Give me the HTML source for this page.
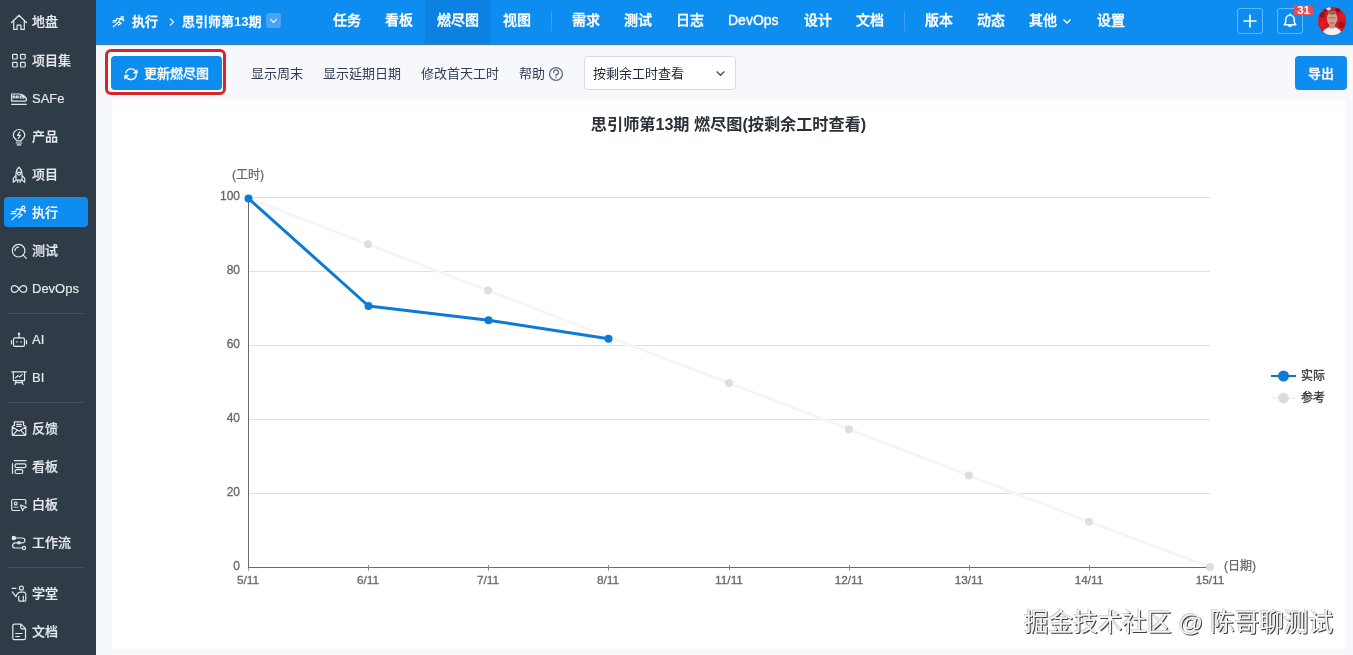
<!DOCTYPE html>
<html lang="zh-CN">
<head>
<meta charset="utf-8">
<title>思引师第13期 燃尽图</title>
<style>
*{box-sizing:border-box;margin:0;padding:0}
html,body{width:1353px;height:655px;overflow:hidden}
body{font-family:"Liberation Sans","Noto Sans CJK SC",sans-serif;background:#f6f8fb;position:relative;color:#313c52;font-size:13px}
#side{position:absolute;left:0;top:0;width:96px;height:655px;background:#2f3b47}
.st{position:absolute;left:32px;height:30px;color:#e6e9ed;font-size:13px;font-weight:500;line-height:30px;white-space:nowrap;-webkit-text-stroke:0.180px #e6e9ed}
.st.act{color:#fff}
.actbg2{position:absolute;left:4px;top:197px;width:84px;height:30px;border-radius:4px;background:#0d8df0}
.sd{position:absolute;left:8px;width:76px;height:1px;background:#44505c}
#top{position:absolute;left:96px;top:0;width:1257px;height:44px;background:#0d8df0;color:#fff;box-shadow:0 1px 1px rgba(8,90,160,.75)}
#top .t{position:absolute;top:0;height:44px;line-height:41px;font-size:14px;font-weight:500;white-space:nowrap;color:#fff;-webkit-text-stroke:0.350px #fff}
#top .vd{position:absolute;top:11px;width:1px;height:20px;background:#3a9ff0}
#top .actbg{position:absolute;left:329px;top:0;width:66px;height:44px;background:#0b82e2}
.sq{position:absolute;top:8px;width:26px;height:26px;border:1px solid #5cbcfa;border-radius:3px}
#bar{position:absolute;left:96px;top:44px;width:1257px;height:56px}
.btn{position:absolute;top:12px;height:34px;background:#0d8df0;color:#fff;border-radius:4px;font-size:13px;font-weight:500;line-height:35px;white-space:nowrap}
.lk{position:absolute;top:12px;height:34px;line-height:35px;font-size:13px;color:#313c52;white-space:nowrap}
#panel{position:absolute;left:112px;top:100px;width:1234px;height:549px;background:#fff;border-radius:3px}
svg text{font-family:"Liberation Sans","Noto Sans CJK SC",sans-serif}
</style>
</head>
<body>
<div id="panel"></div>
<svg id="chart" width="1353" height="655" viewBox="0 0 1353 655" style="position:absolute;left:0;top:0">
  <text x="728.500" y="130.200" text-anchor="middle" font-size="16.150" font-weight="bold" fill="#2b2f36">思引师第13期 燃尽图(按剩余工时查看)</text>
  <g stroke="#e0e0e0" stroke-width="1">
    <line x1="248" y1="197.500" x2="1210" y2="197.500"/>
    <line x1="248" y1="271.500" x2="1210" y2="271.500"/>
    <line x1="248" y1="345.500" x2="1210" y2="345.500"/>
    <line x1="248" y1="419.500" x2="1210" y2="419.500"/>
    <line x1="248" y1="493.500" x2="1210" y2="493.500"/>
  </g>
  <g stroke="#6b6b6b" stroke-width="1">
    <line x1="248.500" y1="197" x2="248.500" y2="568"/>
    <line x1="248" y1="567.500" x2="1210.500" y2="567.500"/>
    <line x1="248.500" y1="568" x2="248.500" y2="571" stroke="#aaa"/>
    <line x1="368.500" y1="565" x2="368.500" y2="570.500" stroke="#8a8a8a"/>
    <line x1="488.500" y1="565" x2="488.500" y2="570.500" stroke="#8a8a8a"/>
    <line x1="608.500" y1="565" x2="608.500" y2="570.500" stroke="#8a8a8a"/>
    <line x1="729.500" y1="565" x2="729.500" y2="570.500" stroke="#8a8a8a"/>
    <line x1="849.500" y1="565" x2="849.500" y2="570.500" stroke="#8a8a8a"/>
    <line x1="969.500" y1="565" x2="969.500" y2="570.500" stroke="#8a8a8a"/>
    <line x1="1089.500" y1="565" x2="1089.500" y2="570.500" stroke="#8a8a8a"/>
    <line x1="1210.500" y1="565" x2="1210.500" y2="570.500" stroke="#8a8a8a"/>
  </g>
  <g font-size="12" fill="#666" stroke="#666" stroke-width="0.300" text-anchor="end">
    <text x="240" y="200">100</text>
    <text x="240" y="274">80</text>
    <text x="240" y="348">60</text>
    <text x="240" y="422">40</text>
    <text x="240" y="496">20</text>
    <text x="240" y="570">0</text>
  </g>
  <g font-size="11.800" fill="#666" stroke="#666" stroke-width="0.280" text-anchor="middle">
    <text x="248" y="584">5/11</text>
    <text x="368" y="584">6/11</text>
    <text x="488" y="584">7/11</text>
    <text x="608" y="584">8/11</text>
    <text x="729" y="584">11/11</text>
    <text x="849" y="584">12/11</text>
    <text x="969" y="584">13/11</text>
    <text x="1089" y="584">14/11</text>
    <text x="1210" y="584">15/11</text>
  </g>
  <text x="248" y="179" font-size="12" fill="#666" stroke="#666" stroke-width="0.250" text-anchor="middle">(工时)</text>
  <text x="1224" y="570" font-size="12" fill="#666" stroke="#666" stroke-width="0.250">(日期)</text>
  <polyline fill="none" stroke="#f6f6f6" stroke-width="3" points="248,198 368,244.250 488,290.500 608,336.750 729,383 849,429.250 969,475.500 1089,521.750 1210,567"/>
  <g fill="#dedede">
    <circle cx="368" cy="244.300" r="4"/><circle cx="488" cy="290.500" r="4"/>
    <circle cx="729" cy="383" r="4"/><circle cx="849" cy="429.200" r="4"/>
    <circle cx="969" cy="475.500" r="4"/><circle cx="1089" cy="521.700" r="4"/>
    <circle cx="1210" cy="567" r="4"/>
  </g>
  <polyline fill="none" stroke="#0c7bd8" stroke-width="3" stroke-linejoin="round" points="248.500,198.500 368.500,306 488.500,320.300 608.500,338.700"/>
  <g fill="#0c7bd8">
    <circle cx="248.500" cy="198.500" r="4"/><circle cx="368.500" cy="306" r="4"/>
    <circle cx="488.500" cy="320.300" r="4"/><circle cx="608.500" cy="338.700" r="4"/>
  </g>
  <line x1="1271" y1="376" x2="1296" y2="376" stroke="#1a70b4" stroke-width="2"/>
  <circle cx="1283.500" cy="376" r="5.500" fill="#0c7bd8"/>
  <line x1="1272" y1="398" x2="1296" y2="398" stroke="#f2f2f2" stroke-width="2"/>
  <circle cx="1283.500" cy="398" r="5.300" fill="#dadada"/>
  <text x="1301" y="380" font-size="12" fill="#333" stroke="#333" stroke-width="0.300">实际</text>
  <text x="1301" y="402" font-size="12" fill="#333" stroke="#333" stroke-width="0.300">参考</text>
  <text x="1024" y="631" font-size="24.500" fill="#f4f4f4" style="filter:drop-shadow(1.200px 1.200px 0.600px rgba(0,0,0,.75)) drop-shadow(-0.500px -0.500px 0.300px rgba(0,0,0,.18))" textLength="309" lengthAdjust="spacingAndGlyphs">掘金技术社区 @ 陈哥聊测试</text>
</svg>

<div id="side">
  <div class="actbg2"></div>
  <svg width="96" height="655" viewBox="0 0 96 655" style="position:absolute;left:0;top:0" fill="none" stroke="#e4e7eb" stroke-width="1.200" stroke-linecap="round" stroke-linejoin="round">
    <g transform="translate(9 12.4)"><path d="M2.400 10.300 L10 2.900 L17.600 10.300 M4.700 8.600 V17 H8.100 V12.700 H11.900 V17 H15.300 V8.600"/></g>
    <g transform="translate(9 50.8)"><rect x="3.600" y="3.600" width="4.600" height="4.600" rx="0.700"/><rect x="11.600" y="3.600" width="4.600" height="4.600" rx="0.700"/><rect x="3.600" y="11.600" width="4.600" height="4.600" rx="0.700"/><rect x="11.600" y="11.600" width="4.600" height="4.600" rx="0.700"/></g>
    <g transform="translate(9 89)"><path d="M2.600 5 H10 C14.200 5 17.400 8.300 17.400 10.800 C17.400 11.600 16.900 12.100 16.100 12.100 H2.600 Z M2.600 15.300 H17.400 M11.200 6.900 H12 C13.500 6.900 14.600 7.800 15.200 9 H11.200 Z"/><circle cx="5.100" cy="7.900" r="1"/><circle cx="8.300" cy="7.900" r="1"/></g>
    <g transform="translate(9 127)"><path d="M7.600 13.800 C7.600 12.800 6.800 12.300 6 11.500 C5 10.600 4.300 9.500 4.300 8.200 A5.700 5.700 0 0 1 15.700 8.200 C15.700 9.500 15 10.600 14 11.500 C13.200 12.300 12.400 12.800 12.400 13.800 Z M7.300 16 H12.700 M8.300 17.900 H11.700 M10.800 5 L8.600 8.400 H11.400 L9.200 11.600"/></g>
    <g transform="translate(9 164.8)"><path d="M10 2.300 C7.800 4.300 7 6.800 7 9.500 V15.300 H13 V9.500 C13 6.800 12.200 4.300 10 2.300 Z M7 10.500 L4.300 13.500 V17.500 L7 15.300 M13 10.500 L15.700 13.500 V17.500 L13 15.300 M8.800 15.500 V17.500 M11.200 15.500 V17.500"/><circle cx="10" cy="8.800" r="1.500"/></g>
    <g transform="translate(9 203.3)" stroke="#fff"><path d="M12.300 6 L7.400 5.900 L6.900 6.800 M12.300 6 L10.100 10.100 L13.100 11.800 L9.400 14.200 M10.100 10.100 L3 16.300 M12.600 6.200 L14 7.200 L16.400 7.400 L15.800 9 M3 8.300 H7.200 M2.200 10.300 H6.600"/><circle cx="14.300" cy="4.400" r="1.500"/></g>
    <g transform="translate(9 241.3)"><circle cx="9.600" cy="9.400" r="6.300"/><path d="M14.200 13.800 L17.300 17 M6 9.400 A3.600 3.600 0 0 1 9.600 5.800"/></g>
    <g transform="translate(9 279)"><path d="M10 10 C8.500 7.600 7.300 6.600 5.700 6.600 A3.400 3.400 0 0 0 5.700 13.400 C7.300 13.400 8.500 12.400 10 10 C11.500 7.600 12.700 6.600 14.300 6.600 A3.400 3.400 0 0 1 14.300 13.400 C12.700 13.400 11.500 12.400 10 10 Z"/></g>
    <g transform="translate(9 330.5)"><rect x="4.500" y="7.300" width="11" height="8.500" rx="1.600"/><path d="M10 7.300 V3.700 M2.500 10 V13.300 M17.500 10 V13.300"/><rect x="7.300" y="10.700" width="1.300" height="1.300" fill="#e4e7eb" stroke="none"/><rect x="11.400" y="10.700" width="1.300" height="1.300" fill="#e4e7eb" stroke="none"/><circle cx="10" cy="3.200" r="0.600"/></g>
    <g transform="translate(9 368.6)"><path d="M2.800 3.200 H17.200 M4.400 3.200 V12 H15.600 V3.200 M7.200 12 L6 16 M12.800 12 L14 16 M6.800 14 H13.200 M6.600 9.200 L9 7 L10.600 8.300 L13.200 5.800"/></g>
    <g transform="translate(9 418.6)"><path d="M5.400 7 V3.200 H14.600 V7 M5.400 6.700 L3.200 8 V15.800 A1 1 0 0 0 4.200 16.800 H15.800 A1 1 0 0 0 16.800 15.800 V8 L14.600 6.700 M3.200 8.500 L10 12.500 L16.800 8.500 M4 16.300 L8 12 M16 16.300 L12 12 M7.700 5.800 H12.300 M7.700 7.800 H12.300"/></g>
    <g transform="translate(9 456.5)"><path d="M5.300 4.200 H17 M3.500 7.200 V17"/><rect x="6" y="7.300" width="11" height="3.800" rx="1.500"/><rect x="6" y="13.200" width="7.800" height="3.800" rx="1.500"/></g>
    <g transform="translate(9 495)"><path d="M10.500 15.500 H4.200 A1.500 1.500 0 0 1 2.700 14 V6 A1.500 1.500 0 0 1 4.200 4.500 H15.300 A1.500 1.500 0 0 1 16.800 6 V9 M5 12.200 H5.200 M6.800 12.200 H7 M8.600 12.200 H8.800 M11.500 10 L17.600 12.200 L14.800 13.200 L13.500 15.600 Z"/><circle cx="6.700" cy="8.500" r="1.400"/></g>
    <g transform="translate(9 533)"><path d="M6 5 H13.500 A2.400 2.400 0 0 1 13.500 9.800 H6.200 A2.600 2.600 0 0 0 6.200 15 H13.200"/><circle cx="4.800" cy="5" r="1.600" fill="#e4e7eb"/><circle cx="15" cy="15" r="1.600"/><circle cx="10" cy="9.800" r="1.100" fill="#e4e7eb"/></g>
    <g transform="translate(9 584.5)"><circle cx="12.400" cy="3.600" r="2"/><path d="M3.200 3.800 H7 M3.300 7.300 L7 12.200 M7 12.200 C8 8.500 9.500 7.600 12 7.600 H14.500 A2.300 2.300 0 0 1 16.800 10 V15.800 A0.800 0.800 0 0 1 16 16.600 H10.500 A0.800 0.800 0 0 1 9.700 15.800 V11.800 M14.300 11.500 V16.500"/></g>
    <g transform="translate(9 622)"><path d="M5.300 2.200 H12 L16.500 6.700 V16.200 A1.500 1.500 0 0 1 15 17.700 H5.300 A1.500 1.500 0 0 1 3.800 16.200 V3.700 A1.500 1.500 0 0 1 5.300 2.200 Z M11.800 2.400 V5.500 A1.300 1.300 0 0 0 13.100 6.800 H16.300 M6.800 11.500 H13 M6.800 14.500 H10.500"/></g>
  </svg>
  <div class="st" style="top:7px">地盘</div>
  <div class="st" style="top:46px">项目集</div>
  <div class="st" style="top:84px">SAFe</div>
  <div class="st" style="top:122px">产品</div>
  <div class="st" style="top:160px">项目</div>
  <div class="st act" style="top:198px">执行</div>
  <div class="st" style="top:236px">测试</div>
  <div class="st" style="top:274px">DevOps</div>
  <div class="st" style="top:325px">AI</div>
  <div class="st" style="top:363px">BI</div>
  <div class="st" style="top:414px">反馈</div>
  <div class="st" style="top:452px">看板</div>
  <div class="st" style="top:490px">白板</div>
  <div class="st" style="top:528px">工作流</div>
  <div class="st" style="top:579px">学堂</div>
  <div class="st" style="top:617px">文档</div>
  <div class="sd" style="top:313px"></div>
  <div class="sd" style="top:402px"></div>
  <div class="sd" style="top:567px"></div>
</div>

<div id="top">
  <div class="actbg"></div>
  <svg style="position:absolute;left:15px;top:14px;width:16px;height:16px;stroke:#fff;fill:none;stroke-width:1.400;stroke-linecap:round;stroke-linejoin:round" viewBox="0 0 20.500 20.500"><path d="M12.300 6 L7.400 5.900 L6.900 6.800 M12.300 6 L10.100 10.100 L13.100 11.800 L9.400 14.200 M10.100 10.100 L3 16.300 M12.600 6.200 L14 7.200 L16.400 7.400 L15.800 9 M3 8.300 H7.200 M2.200 10.300 H6.600"/><circle cx="14.300" cy="4.400" r="1.500"/></svg>
  <div class="t" style="left:36px;font-size:13px;top:1px">执行</div>
  <svg style="position:absolute;left:70.500px;top:16.500px;width:10px;height:10px;stroke:#d8ecfd;fill:none;stroke-width:1.400" viewBox="0 0 10 10"><path d="M3 1.500 L6.500 5 L3 8.500"/></svg>
  <div class="t" style="left:86px;font-size:13px;top:1px">思引师第<b style="-webkit-text-stroke:0">13</b>期</div>
  <div style="position:absolute;left:170px;top:13px;width:15px;height:15px;background:#4aa2f0;border-radius:3px"></div>
  <svg style="position:absolute;left:173px;top:16px;width:9px;height:9px;stroke:#fff;fill:none;stroke-width:1.300" viewBox="0 0 10 10"><path d="M1.500 3.500 L5 7 L8.500 3.500"/></svg>
  <div class="t" style="left:237px">任务</div>
  <div class="t" style="left:289px">看板</div>
  <div class="t" style="left:341px">燃尽图</div>
  <div class="t" style="left:407px">视图</div>
  <div class="vd" style="left:455px"></div>
  <div class="t" style="left:476px">需求</div>
  <div class="t" style="left:528px">测试</div>
  <div class="t" style="left:580px">日志</div>
  <div class="t" style="left:632px">DevOps</div>
  <div class="t" style="left:708px">设计</div>
  <div class="t" style="left:760px">文档</div>
  <div class="vd" style="left:808px"></div>
  <div class="t" style="left:829px">版本</div>
  <div class="t" style="left:881px">动态</div>
  <div class="t" style="left:933px">其他</div>
  <svg style="position:absolute;left:966px;top:16px;width:10px;height:10px;stroke:#fff;fill:none;stroke-width:1.500" viewBox="0 0 10 10"><path d="M1.500 3.500 L5 7 L8.500 3.500"/></svg>
  <div class="t" style="left:1001px">设置</div>
  <div class="sq" style="left:1141px"></div>
  <svg style="position:absolute;left:1146px;top:13px;width:16px;height:16px;stroke:#fff;fill:none;stroke-width:1.600" viewBox="0 0 16 16"><path d="M8 1.500 V14.500 M1.500 8 H14.500"/></svg>
  <div class="sq" style="left:1181px"></div>
  <svg style="position:absolute;left:1186px;top:13px;width:16px;height:16px;stroke:#fff;fill:none;stroke-width:1.500;stroke-linejoin:round;stroke-linecap:round" viewBox="0 0 16 16"><path d="M2.200 11.800 H13.800 C12.400 10.800 12.200 9.600 12.200 6.500 A4.200 4.200 0 0 0 3.800 6.500 C3.800 9.600 3.600 10.800 2.200 11.800 Z M6.600 12.300 A1.500 1.700 0 0 0 9.400 12.300 M8 1 V2.200"/></svg>
  <div style="position:absolute;left:1198px;top:5px;width:19px;height:10px;background:#e64e52;border-radius:1.500px;color:#fff;font-size:11.500px;font-weight:bold;line-height:11.500px;text-align:center;letter-spacing:-0.200px">31</div>
  <svg style="position:absolute;left:1222px;top:7px;width:28px;height:28px" viewBox="0 0 28 28">
    <defs><clipPath id="av"><circle cx="14.100" cy="14.100" r="14.100"/></clipPath><filter id="avb" x="-20%" y="-20%" width="140%" height="140%"><feGaussianBlur stdDeviation="0.700"/></filter></defs>
    <g clip-path="url(#av)">
      <rect x="-2" y="-2" width="32" height="32" fill="#cf1a20"/>
      <g filter="url(#avb)">
        <circle cx="4" cy="8" r="3" fill="#a50f16"/><circle cx="24" cy="9" r="3" fill="#e01a22"/><circle cx="5" cy="17" r="3" fill="#e21c24"/><circle cx="23.500" cy="18" r="3.200" fill="#b01018"/><circle cx="20" cy="3" r="2.500" fill="#8f1018"/><circle cx="7" cy="3.500" r="2" fill="#9c1219"/>
        <ellipse cx="10.600" cy="1.600" rx="2.400" ry="1.800" fill="#e6dfe0"/>
        <ellipse cx="14.100" cy="29" rx="10.500" ry="9.300" fill="#f3f1f2"/>
        <rect x="11.300" y="14" width="5.800" height="7.500" rx="2" fill="#c98f7c"/>
        <ellipse cx="14.100" cy="11.600" rx="5.300" ry="7" fill="#d7a08c"/>
        <ellipse cx="14.100" cy="5.600" rx="4.300" ry="2.200" fill="#9a6658"/>
        <ellipse cx="14.100" cy="16.300" rx="2.600" ry="1.300" fill="#b97a68"/>
        <rect x="10.600" y="10.400" width="7" height="0.900" fill="#9a6a5c"/>
      </g>
    </g>
  </svg>
</div>

<div id="bar">
  <div style="position:absolute;left:9px;top:5px;width:121px;height:46px;border:3px solid #d9252b;border-radius:6px;background:#fdfeff"></div>
  <div class="btn" style="left:15px;width:111px">
    <svg style="position:absolute;left:12px;top:10px;width:16px;height:16px;stroke:#fff;fill:none;stroke-width:1.400;stroke-linecap:round;stroke-linejoin:round" viewBox="-8 -8 16 16"><path d="M-5.100 -1.300 A5.300 5.300 0 0 1 5 -1.600 M6.100 -3.900 L5.800 -0.900 L2.900 -1.300 M5.200 0.800 A5.300 5.300 0 0 1 -4.900 2.400 M-6.100 4.700 L-5.900 1.400 L-2.800 1.500"/></svg>
    <span style="position:absolute;left:33px;top:0;-webkit-text-stroke:0.250px #fff">更新燃尽图</span>
  </div>
  <div class="lk" style="left:155px">显示周末</div>
  <div class="lk" style="left:227px">显示延期日期</div>
  <div class="lk" style="left:325px">修改首天工时</div>
  <div class="lk" style="left:423px">帮助</div>
  <svg style="position:absolute;left:452px;top:22px;width:16px;height:16px;stroke:#636a78;fill:none;stroke-width:1.300;stroke-linecap:round" viewBox="0 0 16 16"><circle cx="8" cy="8" r="6.400"/><path d="M5.700 6.500 A2.400 2.400 0 1 1 8 8.700 V9.700 M8 11.500 V11.700"/></svg>
  <div style="position:absolute;left:488px;top:12px;width:152px;height:34px;background:#fff;border:1px solid #d8dbe1;border-radius:4px"></div>
  <div class="lk" style="left:497px;color:#1f2635">按剩余工时查看</div>
  <svg style="position:absolute;left:619px;top:24px;width:11px;height:11px;stroke:#4a5264;fill:none;stroke-width:1.400" viewBox="0 0 11 11"><path d="M1.700 3.500 L5.500 7.300 L9.300 3.500"/></svg>
  <div class="btn" style="left:1199px;width:52px;text-align:center;-webkit-text-stroke:0.250px #fff">导出</div>
</div>
</body>
</html>
